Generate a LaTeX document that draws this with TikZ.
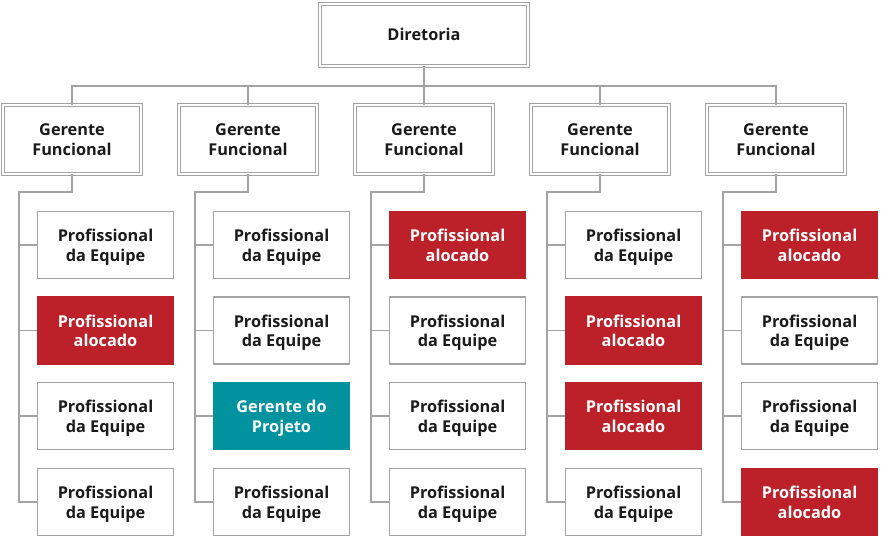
\documentclass[tikz,border=0pt]{standalone}
\usepackage{fontspec}
\setmainfont{Open Sans}
\definecolor{lgray}{HTML}{A3A3A3}
\definecolor{ared}{HTML}{BC2029}
\definecolor{teal}{HTML}{00939F}
\definecolor{txt}{HTML}{1A1A1A}
\newcommand{\twol}[2]{\rule{0pt}{17pt}#1\\#2\rule[-4.5pt]{0pt}{4.5pt}}
\begin{document}
\begin{tikzpicture}[x=1pt,y=-1pt,
  dbox/.style={draw=lgray,double=white,double distance=2.4pt,line width=0.8pt,align=center,font=\fontsize{16.3}{19.5}\selectfont\bfseries,text=txt,inner sep=0pt},
  gbox/.style={dbox,minimum width=138pt,minimum height=69pt},
  pbox/.style={draw=lgray,line width=1.3pt,align=center,minimum width=136pt,minimum height=67pt,font=\fontsize{16.3}{19.5}\selectfont\bfseries,text=txt,inner sep=0pt},
  rbox/.style={pbox,fill=ared,draw=ared,text=white},
  tbox/.style={pbox,fill=teal,draw=teal,text=white},
  conn/.style={draw=lgray,line width=1.3pt}]
\useasboundingbox (0,0) rectangle (885,553);
\node[dbox,minimum width=208pt,minimum height=62pt] (dir) at (424,35) {\rule[-1pt]{0pt}{13pt}Diretoria};
\coordinate (hb) at (424,86);
\foreach \i/\cx in {1/72,2/248,3/424,4/600,5/776}{
  \node[gbox] (g\i) at (\cx,139.5) {\twol{Gerente}{Funcional}};
}
% column 1
\node[pbox] (p11) at (105.5,245) {\twol{Profissional}{da Equipe}};
\node[rbox] (p12) at (105.5,330.5) {\twol{Profissional}{alocado}};
\node[pbox] (p13) at (105.5,416) {\twol{Profissional}{da Equipe}};
\node[pbox] (p14) at (105.5,502) {\twol{Profissional}{da Equipe}};
% column 2
\node[pbox] (p21) at (281.5,245) {\twol{Profissional}{da Equipe}};
\node[pbox] (p22) at (281.5,330.5) {\twol{Profissional}{da Equipe}};
\node[tbox] (p23) at (281.5,416) {\twol{Gerente do}{Projeto}};
\node[pbox] (p24) at (281.5,502) {\twol{Profissional}{da Equipe}};
% column 3
\node[rbox] (p31) at (457.5,245) {\twol{Profissional}{alocado}};
\node[pbox] (p32) at (457.5,330.5) {\twol{Profissional}{da Equipe}};
\node[pbox] (p33) at (457.5,416) {\twol{Profissional}{da Equipe}};
\node[pbox] (p34) at (457.5,502) {\twol{Profissional}{da Equipe}};
% column 4
\node[pbox] (p41) at (633.5,245) {\twol{Profissional}{da Equipe}};
\node[rbox] (p42) at (633.5,330.5) {\twol{Profissional}{alocado}};
\node[rbox] (p43) at (633.5,416) {\twol{Profissional}{alocado}};
\node[pbox] (p44) at (633.5,502) {\twol{Profissional}{da Equipe}};
% column 5
\node[rbox] (p51) at (809.5,245) {\twol{Profissional}{alocado}};
\node[pbox] (p52) at (809.5,330.5) {\twol{Profissional}{da Equipe}};
\node[pbox] (p53) at (809.5,416) {\twol{Profissional}{da Equipe}};
\node[rbox] (p54) at (809.5,502) {\twol{Profissional}{alocado}};
% top connectors
\draw[conn] (dir.south) -- (hb);
\draw[conn] (g1.north) |- (hb) -| (g5.north);
\foreach \i in {2,3,4}{ \draw[conn] (g\i.north) -- (g\i.north |- hb); }
% column connectors
\foreach \i/\cx in {1/72,2/248,3/424,4/600,5/776}{
  \coordinate (k\i) at (\cx-53,193);
  \draw[conn] (g\i.south) -- ++(0,17.5) -| (p\i4.west -| k\i) -- (p\i4.west);
  \foreach \j in {1,2,3}{ \draw[conn] (p\i\j.west -| k\i) -- (p\i\j.west); }
}
\end{tikzpicture}
\end{document}
